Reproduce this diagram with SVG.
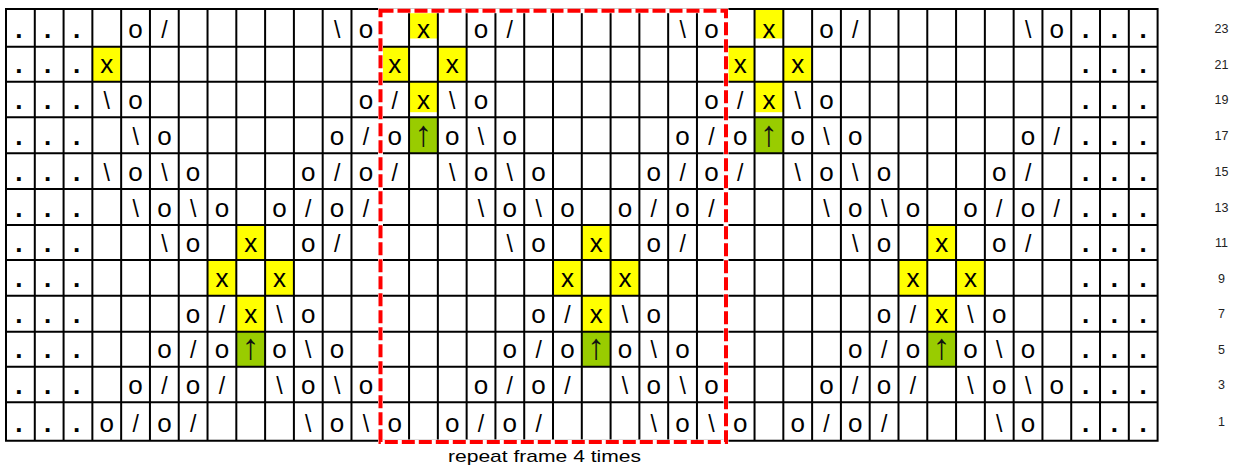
<svg xmlns="http://www.w3.org/2000/svg" width="1240" height="468" viewBox="0 0 1240 468">
<style>
text{font-family:"Liberation Sans",Arial,sans-serif;text-anchor:middle;fill:#000}
.g{font-size:26px}
.s{font-size:23px}
.d{font-size:26px;font-weight:bold}
.a{font-size:36px;fill:#111}
.n{font-size:12.5px;fill:#222}
.cap{font-size:17px}
.y{fill:#ffff00}
.gr{fill:#99cc00}
.grid{fill:none;stroke:#000;stroke-width:2}
</style>
<rect width="1240" height="468" fill="#fff"/>
<g id="cell-fills">
<rect class="y" x="409.06" y="9" width="28.79" height="29.5"/>
<rect class="y" x="754.54" y="9" width="28.79" height="29.5"/>
<rect class="y" x="92.37" y="46.7" width="28.79" height="35"/>
<rect class="y" x="380.27" y="46.7" width="28.79" height="35"/>
<rect class="y" x="437.85" y="46.7" width="28.79" height="35"/>
<rect class="y" x="725.75" y="46.7" width="28.79" height="35"/>
<rect class="y" x="783.33" y="46.7" width="28.79" height="35"/>
<rect class="y" x="409.06" y="81.7" width="28.79" height="30.5"/>
<rect class="y" x="754.54" y="81.7" width="28.79" height="30.5"/>
<rect class="gr" x="409.06" y="117.3" width="28.79" height="36"/>
<rect class="gr" x="754.54" y="117.3" width="28.79" height="36"/>
<rect class="y" x="236.32" y="225" width="28.79" height="35"/>
<rect class="y" x="581.8" y="225" width="28.79" height="35"/>
<rect class="y" x="927.28" y="225" width="28.79" height="35"/>
<rect class="y" x="207.53" y="260" width="28.79" height="35.7"/>
<rect class="y" x="265.11" y="260" width="28.79" height="35.7"/>
<rect class="y" x="553.01" y="260" width="28.79" height="35.7"/>
<rect class="y" x="610.59" y="260" width="28.79" height="35.7"/>
<rect class="y" x="898.49" y="260" width="28.79" height="35.7"/>
<rect class="y" x="956.07" y="260" width="28.79" height="35.7"/>
<rect class="y" x="236.32" y="295.7" width="28.79" height="36"/>
<rect class="y" x="581.8" y="295.7" width="28.79" height="36"/>
<rect class="y" x="927.28" y="295.7" width="28.79" height="36"/>
<rect class="gr" x="236.32" y="331.7" width="28.79" height="35"/>
<rect class="gr" x="581.8" y="331.7" width="28.79" height="35"/>
<rect class="gr" x="927.28" y="331.7" width="28.79" height="35"/>
</g>
<g id="grid">
<path class="grid" d="M6 9V440.7M34.79 9V440.7M63.58 9V440.7M92.37 9V440.7M121.16 9V440.7M149.95 9V440.7M178.74 9V440.7M207.53 9V440.7M236.32 9V440.7M265.11 9V440.7M293.9 9V440.7M322.69 9V440.7M351.48 9V440.7M380.27 9V440.7M409.06 9V440.7M437.85 9V440.7M466.64 9V440.7M495.43 9V440.7M524.22 9V440.7M553.01 9V440.7M581.8 9V440.7M610.59 9V440.7M639.38 9V440.7M668.17 9V440.7M696.96 9V440.7M725.75 9V440.7M754.54 9V440.7M783.33 9V440.7M812.12 9V440.7M840.91 9V440.7M869.7 9V440.7M898.49 9V440.7M927.28 9V440.7M956.07 9V440.7M984.86 9V440.7M1013.65 9V440.7M1042.44 9V440.7M1071.23 9V440.7M1100.02 9V440.7M1128.81 9V440.7M1157.6 9V440.7M5 9H1158.6M5 46.7H1158.6M5 81.7H1158.6M5 117.3H1158.6M5 153.3H1158.6M5 189H1158.6M5 225H1158.6M5 260H1158.6M5 295.7H1158.6M5 331.7H1158.6M5 366.7H1158.6M5 402.3H1158.6M5 440.7H1158.6"/>
</g>
<g id="symbols">
<g id="row23">
<text class="d" x="18.9 47.7 76.5 1085.6 1114.4 1143.2" y="38.2">......</text>
<text class="g" x="135.6 365.9 423.5 481 711.4 768.9 826.5 1056.8" y="38.2">ooxooxoo</text>
<text class="s" x="164.4 337.1 509.8 682.6 855.3 1028.1" y="38.2">/\/\/\</text>
</g>
<g id="row21">
<text class="d" x="18.9 47.7 76.5 1085.6 1114.4 1143.2" y="73.2">......</text>
<text class="g" x="106.8 394.7 452.3 740.2 797.7" y="73.2">xxxxx</text>
</g>
<g id="row19">
<text class="d" x="18.9 47.7 76.5 1085.6 1114.4 1143.2" y="108.8">......</text>
<text class="g" x="135.6 365.9 423.5 481 711.4 768.9 826.5" y="108.8">ooxooxo</text>
<text class="s" x="106.8 394.7 452.3 740.2 797.7" y="108.8">\/\/\</text>
</g>
<g id="row17">
<text class="d" x="18.9 47.7 76.5 1085.6 1114.4 1143.2" y="144.8">......</text>
<text class="g" x="164.4 337.1 394.7 452.3 509.8 682.6 740.2 797.7 855.3 1028.1" y="144.8">oooooooooo</text>
<text class="s" x="135.6 365.9 481 711.4 826.5 1056.8" y="144.8">\/\/\/</text>
<text class="a" x="423.5 768.9" y="146">↑↑</text>
</g>
<g id="row15">
<text class="d" x="18.9 47.7 76.5 1085.6 1114.4 1143.2" y="180.5">......</text>
<text class="g" x="135.6 193.1 308.3 365.9 481 538.6 653.8 711.4 826.5 884.1 999.3" y="180.5">ooooooooooo</text>
<text class="s" x="106.8 164.4 337.1 394.7 452.3 509.8 682.6 740.2 797.7 855.3 1028.1" y="180.5">\\//\\//\\/</text>
</g>
<g id="row13">
<text class="d" x="18.9 47.7 76.5 1085.6 1114.4 1143.2" y="216.5">......</text>
<text class="g" x="164.4 221.9 279.5 337.1 509.8 567.4 625 682.6 855.3 912.9 970.5 1028.1" y="216.5">oooooooooooo</text>
<text class="s" x="135.6 193.1 308.3 365.9 481 538.6 653.8 711.4 826.5 884.1 999.3 1056.8" y="216.5">\\//\\//\\//</text>
</g>
<g id="row11">
<text class="d" x="18.9 47.7 76.5 1085.6 1114.4 1143.2" y="251.5">......</text>
<text class="g" x="193.1 250.7 308.3 538.6 596.2 653.8 884.1 941.7 999.3" y="251.5">oxooxooxo</text>
<text class="s" x="164.4 337.1 509.8 682.6 855.3 1028.1" y="251.5">\/\/\/</text>
</g>
<g id="row9">
<text class="d" x="18.9 47.7 76.5 1085.6 1114.4 1143.2" y="287.2">......</text>
<text class="g" x="221.9 279.5 567.4 625 912.9 970.5" y="287.2">xxxxxx</text>
</g>
<g id="row7">
<text class="d" x="18.9 47.7 76.5 1085.6 1114.4 1143.2" y="323.2">......</text>
<text class="g" x="193.1 250.7 308.3 538.6 596.2 653.8 884.1 941.7 999.3" y="323.2">oxooxooxo</text>
<text class="s" x="221.9 279.5 567.4 625 912.9 970.5" y="323.2">/\/\/\</text>
</g>
<g id="row5">
<text class="d" x="18.9 47.7 76.5 1085.6 1114.4 1143.2" y="358.2">......</text>
<text class="g" x="164.4 221.9 279.5 337.1 509.8 567.4 625 682.6 855.3 912.9 970.5 1028.1" y="358.2">oooooooooooo</text>
<text class="s" x="193.1 308.3 538.6 653.8 884.1 999.3" y="358.2">/\/\/\</text>
<text class="a" x="250.7 596.2 941.7" y="359.4">↑↑↑</text>
</g>
<g id="row3">
<text class="d" x="18.9 47.7 76.5 1085.6 1114.4 1143.2" y="393.8">......</text>
<text class="g" x="135.6 193.1 308.3 365.9 481 538.6 653.8 711.4 826.5 884.1 999.3 1056.8" y="393.8">oooooooooooo</text>
<text class="s" x="164.4 221.9 279.5 337.1 509.8 567.4 625 682.6 855.3 912.9 970.5 1028.1" y="393.8">//\\//\\//\\</text>
</g>
<g id="row1">
<text class="d" x="18.9 47.7 76.5 1085.6 1114.4 1143.2" y="432">......</text>
<text class="g" x="106.8 164.4 337.1 394.7 452.3 509.8 682.6 740.2 797.7 855.3 1028.1" y="432">ooooooooooo</text>
<text class="s" x="135.6 193.1 308.3 365.9 481 538.6 653.8 711.4 826.5 884.1 999.3" y="432">//\\//\\//\</text>
</g>
</g>
<g id="repeat-frame">
<rect x="380.5" y="10.7" width="345.5" height="431.3" fill="none" stroke="#fff" stroke-width="5"/>
<rect x="380.5" y="10.7" width="345.5" height="431.3" fill="none" stroke="#ff0000" stroke-width="4" stroke-dasharray="13 4"/>
</g>
<g id="row-numbers">
<text class="n" x="1221.5" y="32.5">23</text>
<text class="n" x="1221.5" y="68.9">21</text>
<text class="n" x="1221.5" y="104.2">19</text>
<text class="n" x="1221.5" y="140">17</text>
<text class="n" x="1221.5" y="175.9">15</text>
<text class="n" x="1221.5" y="211.7">13</text>
<text class="n" x="1221.5" y="247.2">11</text>
<text class="n" x="1221.5" y="282.6">9</text>
<text class="n" x="1221.5" y="318.4">7</text>
<text class="n" x="1221.5" y="353.9">5</text>
<text class="n" x="1221.5" y="389.2">3</text>
<text class="n" x="1221.5" y="426.2">1</text>
</g>
<text id="caption" class="cap" x="544.5" y="461.5" textLength="193" lengthAdjust="spacingAndGlyphs">repeat frame 4 times</text>
</svg>
